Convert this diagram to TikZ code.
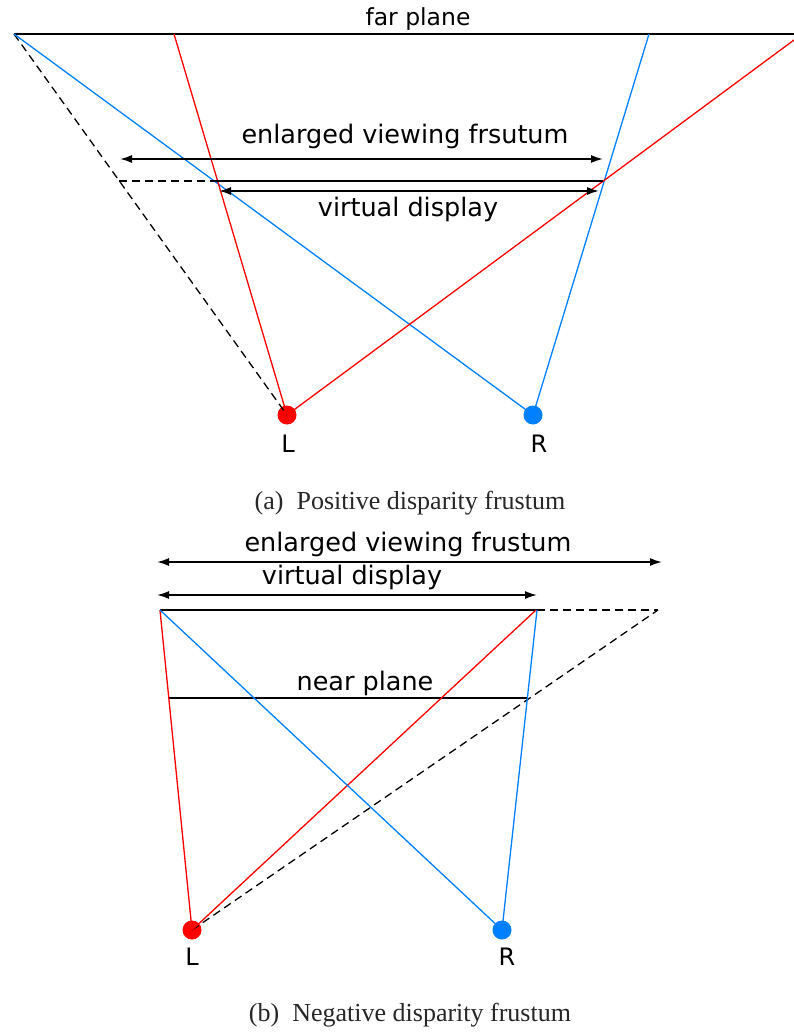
\documentclass[tikz,border=0pt]{standalone}
\usepackage{fontspec}
\setmainfont{Liberation Serif}
\newfontfamily\labelfont{DejaVu Sans}
\usetikzlibrary{arrows.meta}
\definecolor{eyered}{RGB}{255,0,0}
\definecolor{eyeblue}{RGB}{0,128,255}
\tikzset{
  redline/.style={draw=eyered, line width=1.3pt},
  blueline/.style={draw=eyeblue, line width=1.3pt},
  plane/.style={draw=black, line width=1.3pt},
  dashline/.style={draw=black, line width=1.3pt, dash pattern=on 8pt off 5pt},
  dimarrow/.style={draw=black, line width=1.7pt, {Latex[length=12pt,width=8pt]}-{Latex[length=12pt,width=8pt]}},
  lbl/.style={font=\labelfont\fontsize{25.5}{30}\selectfont, inner sep=0pt},
  smalllbl/.style={font=\labelfont\fontsize{23.5}{28}\selectfont, inner sep=0pt},
  eyelbl/.style={font=\labelfont\fontsize{24}{28}\selectfont, inner sep=0pt},
  capt/.style={font=\fontsize{26}{30}\selectfont, text=black!85, inner sep=0pt},
  reddot/.style={circle, fill=eyered, minimum size=19pt, inner sep=0pt},
  bluedot/.style={circle, fill=eyeblue, minimum size=19pt, inner sep=0pt}
}
\begin{document}
\begin{tikzpicture}[x=1pt,y=-1pt]
\useasboundingbox (0,0) rectangle (794,1032);
% ---------- (a) positive disparity ----------
\coordinate (FL) at (14,34);
\coordinate (FR) at (794,34);
\coordinate (FRed) at (174,34);
\coordinate (FBlue) at (649,34);
\coordinate (RedOut) at (794,40);
\coordinate (VL) at (218,181);
\coordinate (VR) at (603,181);
\coordinate (DL) at (119,181);
\coordinate (EA1) at (120,159);
\coordinate (EA2) at (603,159);
\coordinate (VA1) at (219,191);
\coordinate (VA2) at (599,191);
\node[reddot] (La) at (287,415) {};
\node[bluedot] (Ra) at (533,415) {};
\draw[plane] (FL) -- (FR);
\draw[dashline] (FL) -- (La.center);
\draw[blueline] (FL) -- (Ra.center);
\draw[blueline] (FBlue) -- (Ra.center);
\draw[redline] (FRed) -- (La.center);
\draw[redline] (La.center) -- (RedOut);
\draw[plane] (VL) -- (VR);
\draw[dashline] (DL) -- (VL);
\draw[dimarrow] (EA1) -- (EA2);
\draw[dimarrow] (VA1) -- (VA2);
\node[smalllbl] (farplane) at (418,19) {far plane};
\node[lbl] (enla) at (405,136) {enlarged viewing frsutum};
\node[lbl] (vda) at (408,209) {virtual display};
\node[eyelbl] (Llab) at (288,444) {L};
\node[eyelbl] (Rlab) at (539,444) {R};
\node[capt] (capa) at (410,503) {(a)\enspace Positive disparity frustum};
% ---------- (b) negative disparity ----------
\coordinate (DTL) at (160,610);
\coordinate (DTR) at (537,610);
\coordinate (DTRed) at (536,610);
\coordinate (DEx) at (658,610);
\coordinate (NL) at (169,698);
\coordinate (NR) at (527,698);
\coordinate (EB1) at (157,562);
\coordinate (EB2) at (662,562);
\coordinate (VB1) at (157,595);
\coordinate (VB2) at (537,595);
\node[reddot] (Lb) at (192,930) {};
\node[bluedot] (Rb) at (502,930) {};
\draw[plane] (DTL) -- (DTR);
\draw[dashline] (DTR) -- (DEx);
\draw[dashline] (Lb.center) -- (DEx);
\draw[plane] (NL) -- (NR);
\draw[redline] (Lb.center) -- (DTL);
\draw[redline] (Lb.center) -- (DTRed);
\draw[blueline] (Rb.center) -- (DTL);
\draw[blueline] (Rb.center) -- (DTR);
\draw[dimarrow] (EB1) -- (EB2);
\draw[dimarrow] (VB1) -- (VB2);
\node[lbl] (enlb) at (408,544) {enlarged viewing frustum};
\node[lbl] (vdb) at (352,577) {virtual display};
\node[lbl] (near) at (365,683) {near plane};
\node[eyelbl] (Llb) at (192,957) {L};
\node[eyelbl] (Rlb) at (507,957) {R};
\node[capt] (capb) at (410,1015) {(b)\enspace Negative disparity frustum};
\end{tikzpicture}
\end{document}
